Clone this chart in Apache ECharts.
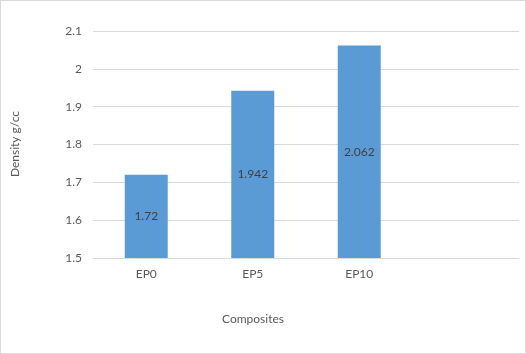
<!DOCTYPE html>
<html>
<head>
<meta charset="utf-8">
<script src="https://cdn.jsdelivr.net/npm/echarts@6/dist/echarts.min.js"></script>
<style>
  html, body { margin: 0; padding: 0; background: #fff; }
  #myChart { width: 524px; height: 352px; border: 1px solid #d9d9d9; }
</style>
</head>
<body>
<div id="myChart"></div>
<script>
// categories (last slot is empty in the original)
var categories = ['EP0', 'EP5', 'EP10', '']
// density values g/cc
var densityValues = [1.72, 1.942, 2.062, null]
var yMin = 1.5
var yMax = 2.1
var yStep = 0.1

var myChart = echarts.init(document.getElementById('myChart'))
var font = 'Lato, "Liberation Sans", sans-serif'
var option = {
  animation: false,
  grid: {
    left: 92,
    right: 6,
    top: 30,
    bottom: 95
  },
  xAxis: {
    type: 'category',
    data: categories,
    axisLine: { lineStyle: { color: '#d9d9d9' } },
    axisTick: { show: false },
    axisLabel: { color: '#595959', fontSize: 12, fontFamily: font, margin: 10 }
  },
  yAxis: {
    type: 'value',
    min: yMin,
    max: yMax,
    interval: yStep,
    axisLine: { show: false },
    axisTick: { show: false },
    splitLine: { lineStyle: { color: '#d9d9d9' } },
    axisLabel: {
      color: '#595959',
      fontSize: 12,
      fontFamily: font,
      margin: 11,
      formatter: function (v) { return String(Math.round(v * 10) / 10) }
    }
  },
  graphic: [
    {
      type: 'text',
      x: 14,
      y: 143,
      rotation: Math.PI / 2,
      style: {
        text: 'Density g/cc',
        fill: '#595959',
        font: '12px ' + font,
        textAlign: 'center',
        textVerticalAlign: 'middle'
      }
    },
    {
      type: 'text',
      x: 252,
      y: 318,
      style: {
        text: 'Composites',
        fill: '#595959',
        font: '12px ' + font,
        textAlign: 'center',
        textVerticalAlign: 'middle'
      }
    }
  ],
  series: [{
    name: 'Density',
    type: 'bar',
    barWidth: 43,
    data: densityValues,
    itemStyle: { color: '#5b9bd5' },
    label: {
      show: true,
      position: 'inside',
      color: '#404040',
      fontSize: 12,
      fontFamily: font
    }
  }]
}
myChart.setOption(option)
</script>
</body>
</html>
